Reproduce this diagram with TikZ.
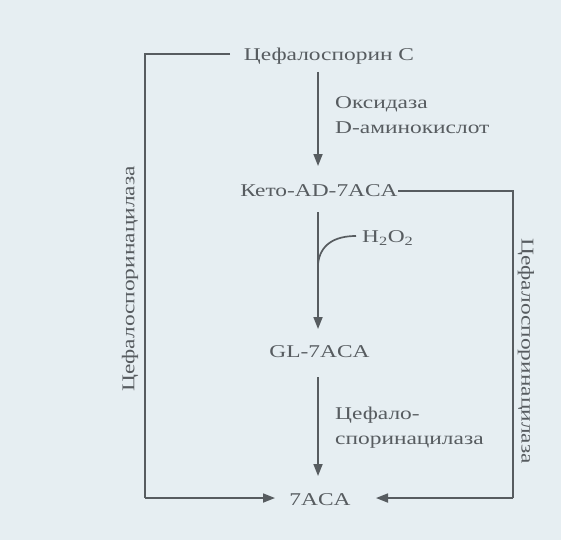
\documentclass[tikz,border=0pt]{standalone}
\usepackage{fontspec}
\setmainfont{Liberation Serif}
\newfontfamily\widefont[FakeStretch=1.3]{Liberation Serif}
\usetikzlibrary{arrows.meta}
\definecolor{bg}{HTML}{E6EEF2}
\definecolor{ink}{HTML}{575C60}
\begin{document}
\begin{tikzpicture}[x=1pt,y=-1pt,
  lbl/.style={text=ink,font=\widefont\fontsize{18}{24}\selectfont,inner sep=1pt},
  side/.style={text=ink,font=\widefont\fontsize{18}{25}\selectfont,inner sep=1pt,align=left},
  ln/.style={draw=ink,line width=1.7pt},
  arr/.style={ln,-{Triangle[length=12pt,width=9pt]}}]
\fill[bg] (0,0) rectangle (561,540);
\useasboundingbox (0,0) rectangle (561,540);
\node[lbl] (cefc) at (329,56) {Цефалоспорин С};
\node[lbl] (keto) at (319,191) {Кето-AD-7ACA};
\node[lbl] (gl) at (319.5,352) {GL-7ACA};
\node[lbl] (aca) at (320,500) {7ACA};
\node[side,anchor=west] (oks) at (334,115) {Оксидаза\\D-аминокислот};
\node[side,anchor=west] (cef2) at (334,428) {Цефало-\\споринацилаза};
\node[lbl,anchor=west] (h2o2) at (361,238) {H\textsubscript{2}O\textsubscript{2}};
\node[side,rotate=90] (lefttxt) at (130,279) {Цефалоспоринацилаза};
\node[side,rotate=-90] (righttxt) at (526,351) {Цефалоспоринацилаза};
\coordinate (cl) at (230,54);
\coordinate (tl) at (145,54);
\coordinate (bl) at (145,498);
\coordinate (kr) at (398,191);
\coordinate (tr) at (513,191);
\coordinate (br) at (513,498);
\coordinate (lt) at (275,498);
\coordinate (rt) at (376,498);
\coordinate (h2s) at (318,264);
\coordinate (h2e) at (356,236);
\draw[arr] (318,72) -- (318,166);
\draw[arr] (318,212) -- (318,329);
\draw[arr] (318,377) -- (318,476);
\draw[ln] (h2s) .. controls (320,245) and (334,236) .. (h2e);
\draw[ln] (cl) -- (tl) -- (bl);
\draw[arr] (bl) -- (lt);
\draw[ln] (kr) -- (tr) -- (br);
\draw[arr] (br) -- (rt);
\end{tikzpicture}
\end{document}
